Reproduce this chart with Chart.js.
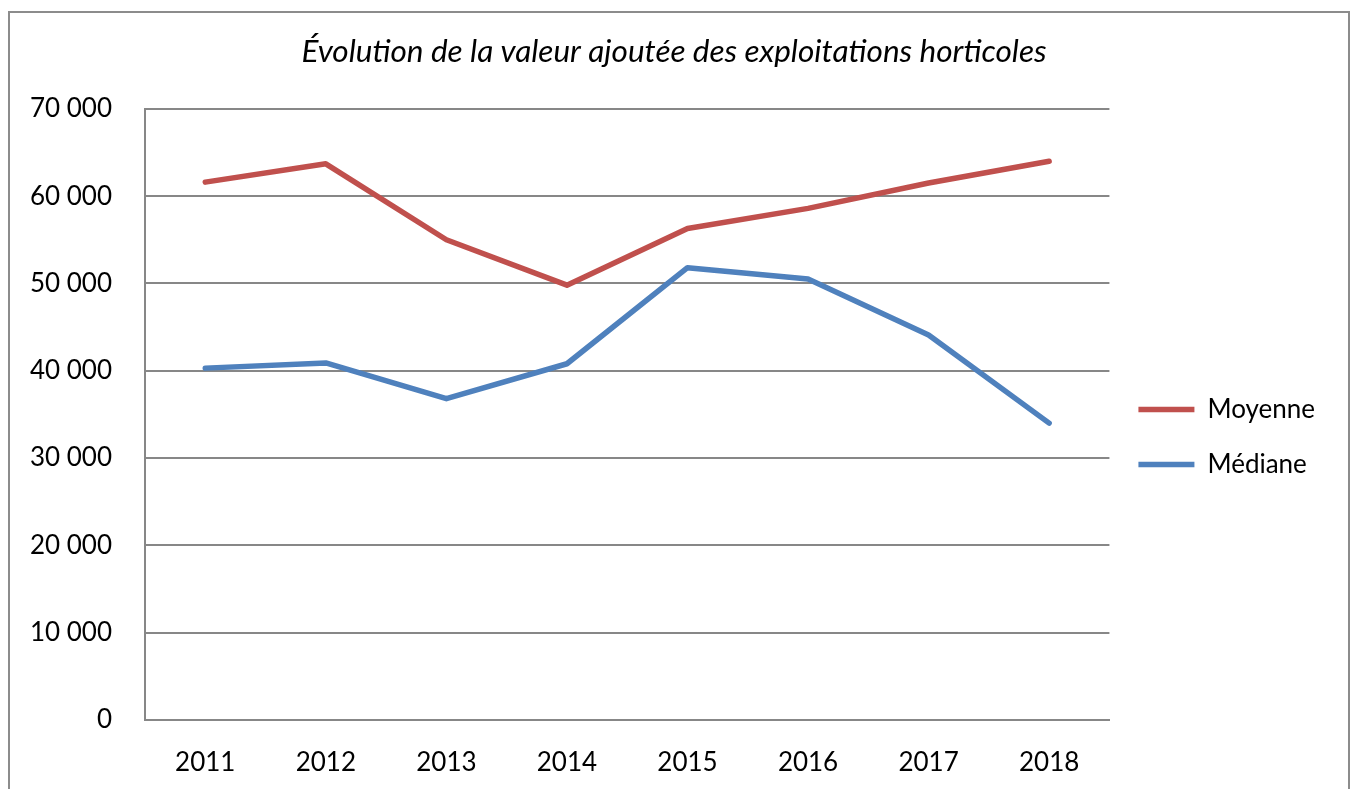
<!DOCTYPE html>
<html>
<head>
<meta charset="utf-8">
<script src="https://cdn.jsdelivr.net/npm/chart.js@4"></script>
<style>
  body { margin: 0; background: #fff; }
  #wrap { position: relative; width: 1355px; height: 789px; overflow: hidden; }
  #frame { position: absolute; left: 8px; top: 11px; width: 1338px; height: 820px; border: 2px solid #8c8c8c; pointer-events: none; }
</style>
</head>
<body>
<div id="wrap">
  <canvas id="chart" width="1355" height="789"></canvas>
  <div id="frame"></div>
</div>
<script>
const years = ['2011', '2012', '2013', '2014', '2015', '2016', '2017', '2018'];
const moyenne = [61600, 63700, 55000, 49800, 56300, 58600, 61500, 64000];
const mediane = [40300, 40900, 36800, 40800, 51800, 50500, 44100, 34000];

const RED = '#c0504d', BLUE = '#4f81bd', GRID = '#878787';
const font = { family: 'Lato', size: 26 };

const fmt = v => String(v).replace(/\B(?=(\d{3})+(?!\d))/g, ' ');

// legend swatch takes its style from point 0, so give the (hidden) points the line's colour/width
const series = (label, data, color) => ({
  label, data,
  borderColor: color, backgroundColor: color,
  pointBorderColor: color, pointBackgroundColor: color, pointBorderWidth: 5.5
});

new Chart(document.getElementById('chart'), {
  type: 'line',
  data: {
    labels: years,
    datasets: [series('Moyenne', moyenne, RED), series('Médiane', mediane, BLUE)]
  },
  options: {
    responsive: false,
    animation: false,
    // left/right padding keep the title centred on the frame
    layout: { padding: { left: 23, right: 30, top: 0, bottom: 10 } },
    elements: {
      line: { borderWidth: 5.5, tension: 0, borderCapStyle: 'round', borderJoinStyle: 'round', fill: false },
      point: { radius: 0, hoverRadius: 0 }
    },
    plugins: {
      title: {
        display: true,
        text: 'Évolution de la valeur ajoutée des exploitations horticoles',
        color: '#000',
        font: { family: 'Lato', size: 31.5, style: 'italic', weight: 'normal' },
        padding: { top: 33, bottom: 38 }
      },
      legend: {
        position: 'right',
        // empty title only pushes the items down to where the original has them
        title: { display: true, text: ' ', font, padding: { top: 32, bottom: 32 } },
        labels: {
          color: '#000', font,
          usePointStyle: true, pointStyle: 'line', pointStyleWidth: 56,
          padding: 29
        }
      },
      tooltip: { enabled: false }
    },
    scales: {
      x: {
        offset: true,
        afterFit: s => { s.height = 59; },
        grid: { display: false, drawTicks: false },
        border: { display: true, color: GRID, width: 2 },
        ticks: { color: '#000', font, padding: 27 }
      },
      y: {
        min: 0, max: 70000,
        afterFit: s => { s.width = 122; },
        grid: { color: GRID, lineWidth: 2, drawTicks: false },
        border: { display: true, color: GRID, width: 2 },
        ticks: { stepSize: 10000, color: '#000', font, padding: 33, callback: v => fmt(v) }
      }
    }
  }
});
</script>
</body>
</html>
